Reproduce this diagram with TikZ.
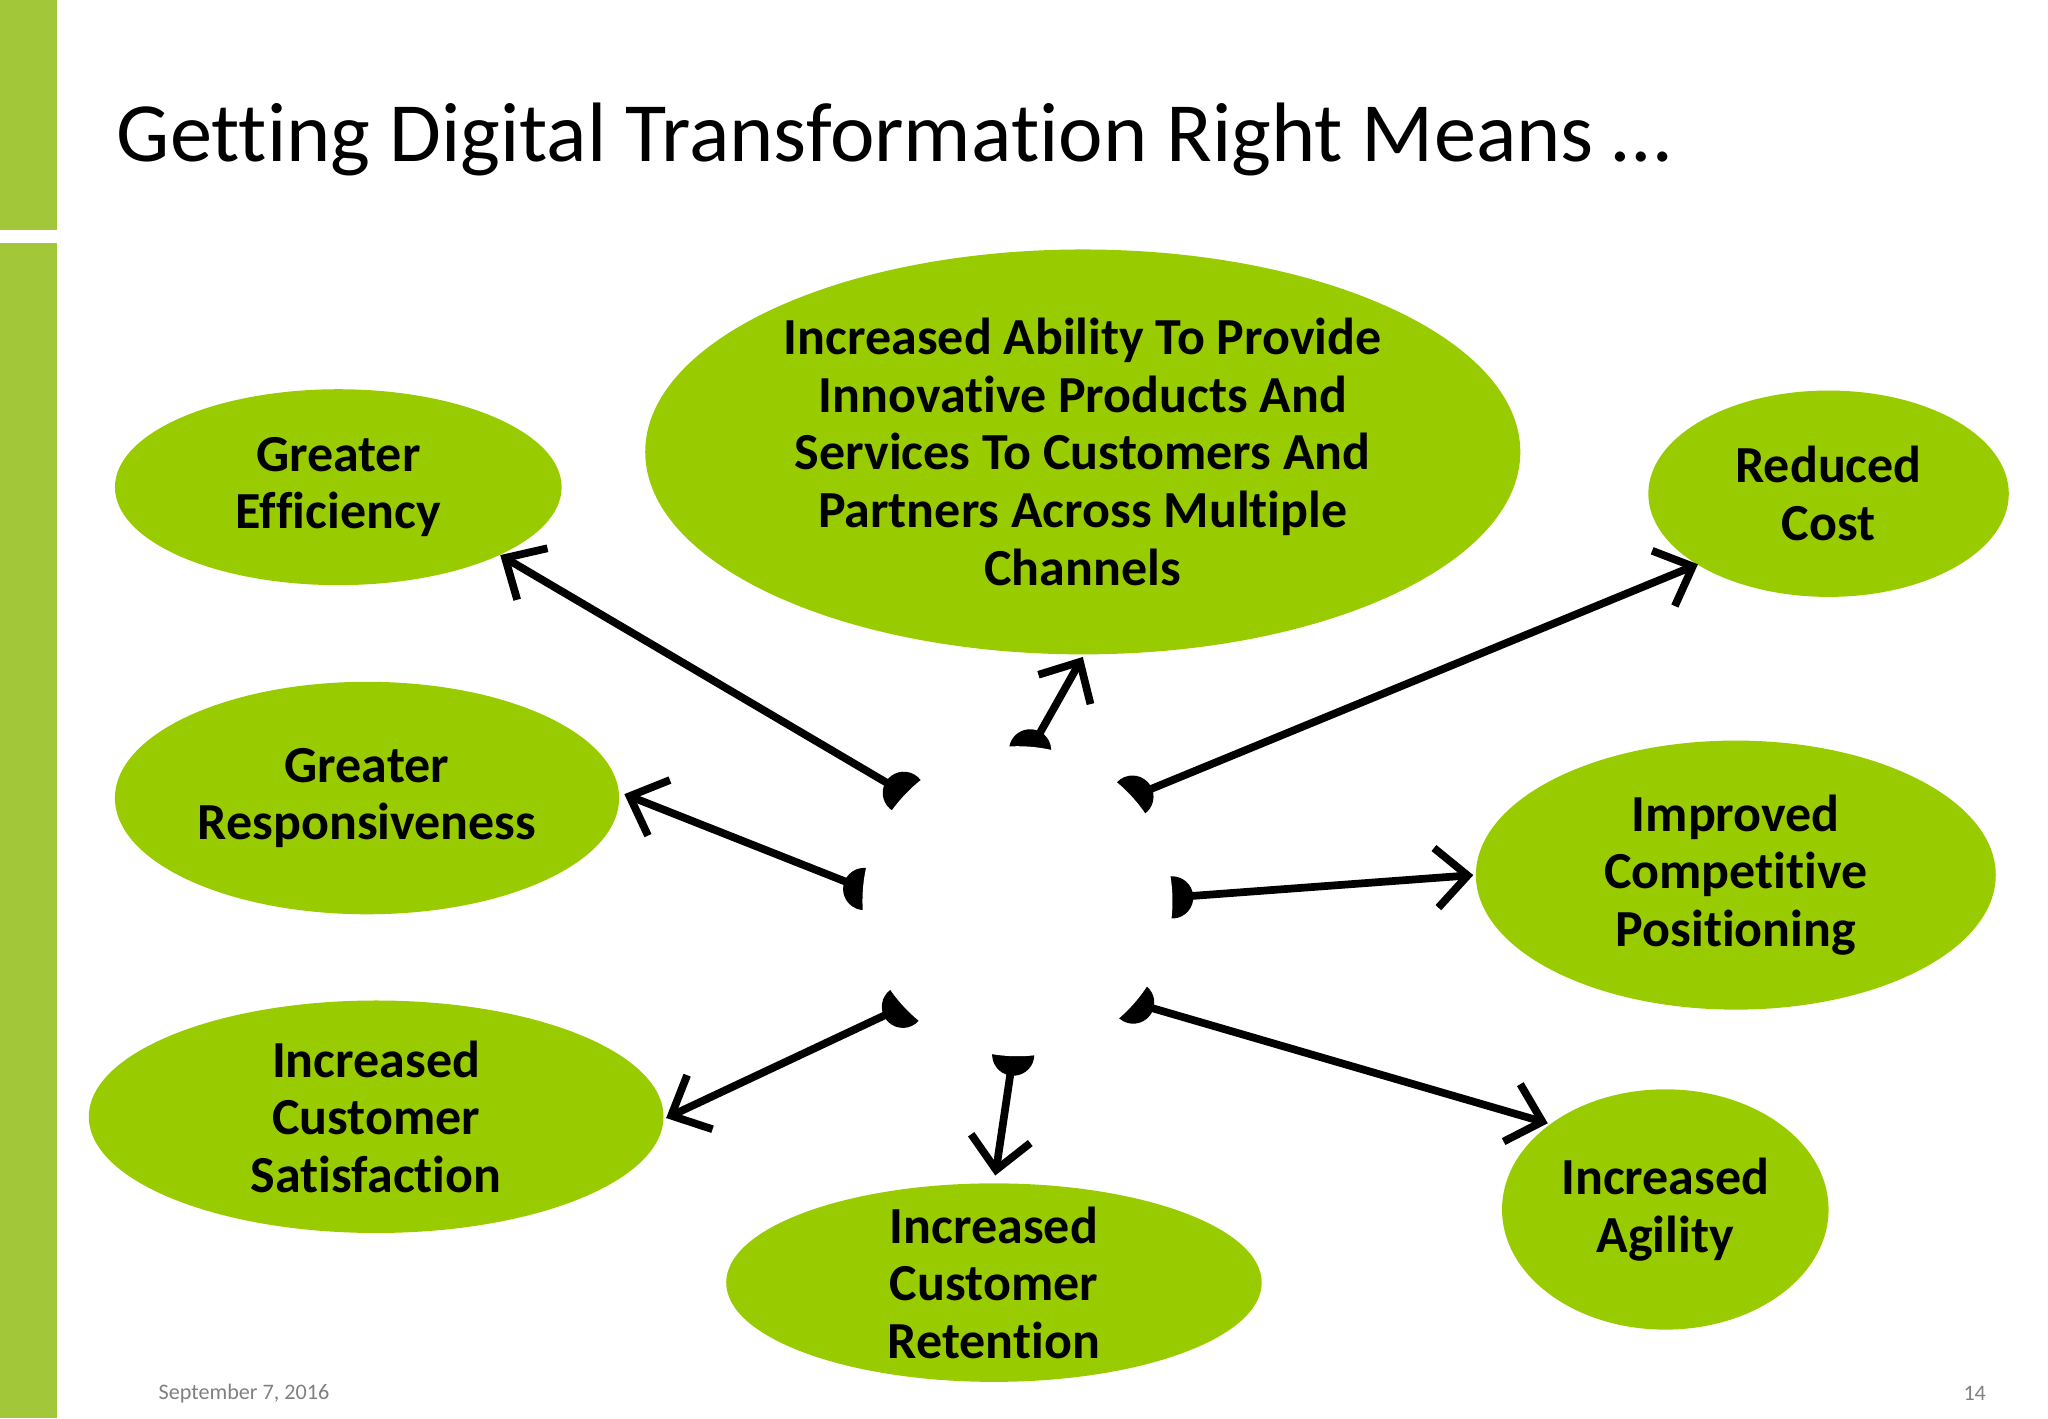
\documentclass[tikz,border=0pt]{standalone}
\usepackage{fontspec}
\setmainfont{Carlito}[Ligatures={NoCommon}]
\usetikzlibrary{arrows.meta,calc}
\definecolor{bar}{HTML}{A2C83A}
\definecolor{ell}{HTML}{99CC00}
\begin{document}
\begin{tikzpicture}[x=0.01306cm,y=-0.01306cm,
  oval/.style={fill=ell,draw=none},
  otext/.style={align=center,font=\fontsize{14.8}{16.4}\selectfont\bfseries,text=black},
  arr/.style={line width=2.2pt,{Circle[length=12pt]}-{Straight Barb[length=9pt,width=17pt,line width=2.2pt]}}]
\useasboundingbox (0,0) rectangle (1568,1086);
\fill[bar] (0,0) rectangle (44,176);
\fill[bar] (0,186) rectangle (44,1086);
\node[anchor=west,font=\fontsize{24}{29}\selectfont] (title) at (80,107) {Getting Digital Transformation Right Means …};
\node[anchor=west,font=\fontsize{6.3}{7}\selectfont,text=gray] (date) at (112,1067) {September 7, 2016};
\node[anchor=east,font=\fontsize{6.3}{7}\selectfont,text=gray] (pg) at (1530,1067) {14};
% ellipses
\fill[oval] (259,373) ellipse [x radius=171,y radius=75];
\fill[oval] (829,346) ellipse [x radius=335,y radius=155];
\fill[oval] (1400,378) ellipse [x radius=138,y radius=79];
\fill[oval] (281,611) ellipse [x radius=193,y radius=89];
\fill[oval] (1329,670) ellipse [x radius=199,y radius=103];
\fill[oval] (288,855) ellipse [x radius=220,y radius=89];
\fill[oval] (761,982) ellipse [x radius=205,y radius=76];
\fill[oval] (1275,926) ellipse [x radius=125,y radius=92];
\node[otext] (e1) at (259,373) {Greater\\Efficiency};
\node[otext] (e2) at (829,346) {Increased Ability To Provide\\Innovative Products And\\Services To Customers And\\Partners Across Multiple\\Channels};
\node[otext] (e3) at (1400,378) {Reduced\\Cost};
\node[otext] (e4) at (281,611) {Greater\\Responsiveness};
\node[otext] (e5) at (1329,670) {Improved\\Competitive\\Positioning};
\node[otext] (e6) at (288,855) {Increased\\Customer\\Satisfaction};
\node[otext] (e7) at (761,982) {Increased\\Customer\\Retention};
\node[otext] (e8) at (1275,926) {Increased\\Agility};
% connector ends
\coordinate (hub) at (779,690);
\coordinate (p1) at (694,603); \coordinate (t1) at (383,425);
\coordinate (p2) at (781,572); \coordinate (t2) at (829,503);
\coordinate (p3) at (864,604); \coordinate (t3) at (1300,432);
\coordinate (p4) at (660,686); \coordinate (t4) at (478,608);
\coordinate (p5) at (898,688); \coordinate (t5) at (1128,670);
\coordinate (p6) at (694,776); \coordinate (t6) at (510,856);
\coordinate (p7) at (778,808); \coordinate (t7) at (762,900);
\coordinate (p8) at (864,775); \coordinate (t8) at (1185,860);
\foreach \i in {1,...,8} {
  \coordinate (s\i) at ($(hub)!0.86!(p\i)$);
  \draw[arr] (s\i) -- (t\i);
}
\fill[white] (hub) circle [radius=1.55cm];
\end{tikzpicture}
\end{document}
